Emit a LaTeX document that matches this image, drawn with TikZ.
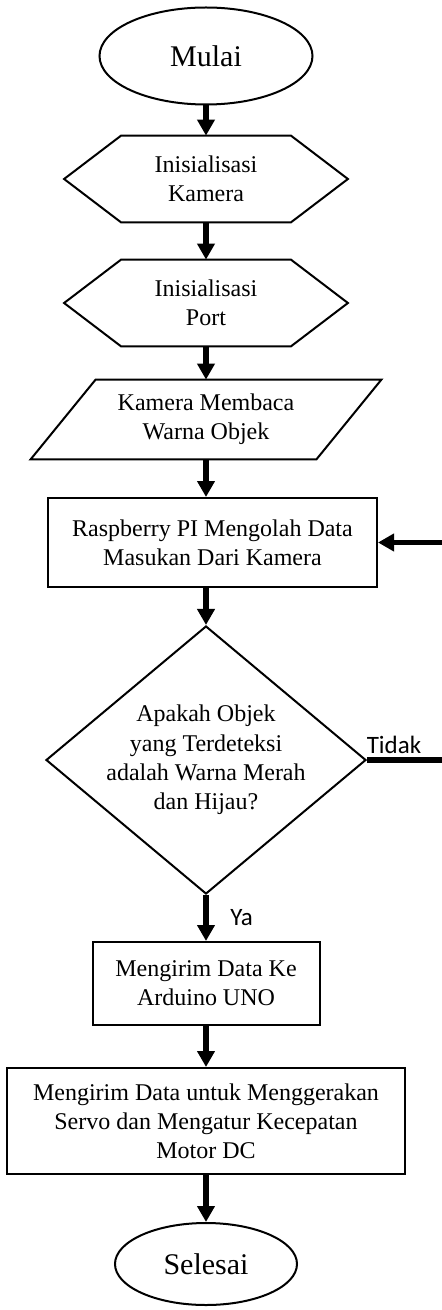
\documentclass[tikz,border=0pt]{standalone}
\usepackage{fontspec}
\setmainfont{Liberation Serif}
\newfontfamily\answerfont{Carlito}
\usetikzlibrary{shapes.geometric,arrows.meta,calc}

\begin{document}
\begin{tikzpicture}[x=0.5pt, y=-0.5pt,
    terminal/.style={ellipse, draw, line width=1pt, font=\fontsize{15pt}{18pt}\selectfont},
    process/.style={rectangle, draw, line width=1pt, align=center, font=\fontsize{12pt}{14.6pt}\selectfont},
    shaped/.style={rectangle, align=center, inner sep=0pt, font=\fontsize{12pt}{14.6pt}\selectfont},
    outline/.style={draw, line width=1pt, line join=miter},
    decision/.style={diamond, draw, line width=1pt, inner sep=0pt},
    flow/.style={line width=2.75pt, -{Triangle[width=8.5pt,length=8pt]}},
    answer/.style={font=\answerfont\fontsize{12.5pt}{15pt}\selectfont}
]
    \clip (0,0) rectangle (442,1310);

    % Mulai dan inisialisasi
    \node[terminal, minimum width=106.5pt, minimum height=48.5pt] (mulai) at (206,56) {Mulai};
    \node[shaped, minimum width=84.5pt, minimum height=43pt] (kamera) at (206,179) {Inisialisasi\\Kamera};
    \draw[outline] (kamera.north west) -- (kamera.north east) -- ($(kamera.east)+(57,0)$) -- (kamera.south east) -- (kamera.south west) -- ($(kamera.west)+(-57,0)$) -- cycle;
    \node[shaped, minimum width=84.5pt, minimum height=43pt] (port) at (206,303) {Inisialisasi\\Port};
    \draw[outline] (port.north west) -- (port.north east) -- ($(port.east)+(57,0)$) -- (port.south east) -- (port.south west) -- ($(port.west)+(-57,0)$) -- cycle;

    % Input kamera
    \node[shaped, minimum width=110pt, minimum height=39.5pt] (baca) at (206,419.5) {Kamera Membaca\\Warna Objek};
    \draw[outline] ($(baca.south west)+(-65,0)$) -- (baca.south east) -- ($(baca.north east)+(65,0)$) -- (baca.north west) -- cycle;

    % Proses dan keputusan
    \node[process, minimum width=164.5pt, minimum height=44.5pt] (olah) at (212.5,542.5) {Raspberry PI Mengolah Data\\Masukan Dari Kamera};
    \node[decision, minimum width=160pt, minimum height=134pt,
          label={[align=center, font=\fontsize{12pt}{14.6pt}\selectfont]center:Apakah Objek\\yang Terdeteksi\\adalah Warna Merah\\dan Hijau?}] (cek) at (206,760) {};
    \node[process, minimum width=113.5pt, minimum height=41.5pt] (kirim) at (206,983.5) {Mengirim Data Ke\\Arduino UNO};
    \node[process, minimum width=199pt, minimum height=53pt] (servo) at (206,1121) {Mengirim Data untuk Menggerakan\\Servo dan Mengatur Kecepatan\\Motor DC};
    \node[terminal, minimum width=91pt, minimum height=41pt] (selesai) at (206,1264) {Selesai};

    % Alur
    \draw[flow] (mulai) -- (kamera);
    \draw[flow] (kamera) -- (port);
    \draw[flow] (port) -- (baca);
    \draw[flow] (baca) -- (baca |- olah.north);
    \draw[flow] (olah.south -| cek) -- (cek);
    \draw[flow] (cek) -- node[answer, right, xshift=7.5pt] {Ya} (kirim);
    \draw[flow] (kirim) -- (servo);
    \draw[flow] (servo) -- (selesai);
    \draw[flow] (cek.east) -- node[answer, above, pos=0.3, inner sep=2pt] {Tidak} ++(90,0) |- (olah.east);

\end{tikzpicture}
\end{document}
